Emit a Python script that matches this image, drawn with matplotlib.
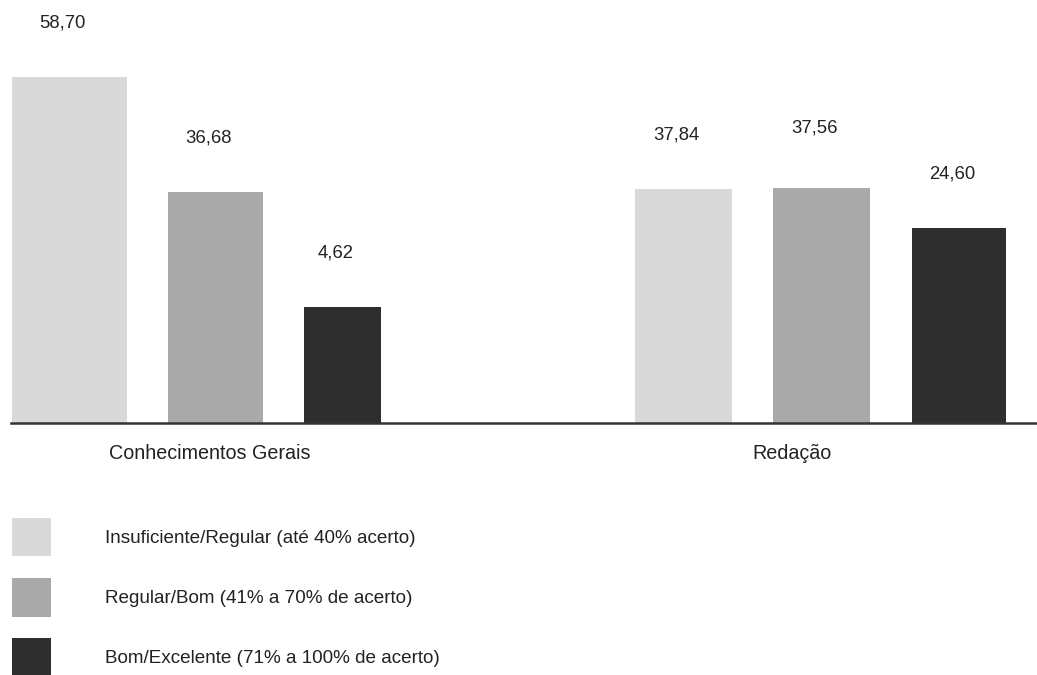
import matplotlib
matplotlib.use("Agg")
import matplotlib.pyplot as plt
from matplotlib.patches import Patch

plt.rcParams['font.family'] = ['Liberation Sans', 'DejaVu Sans']

# ---- data ----
categories = ["Conhecimentos Gerais", "Redação"]
series_names = [
    "Insuficiente/Regular (até 40% acerto)",
    "Regular/Bom (41% a 70% de acerto)",
    "Bom/Excelente (71% a 100% de acerto)",
]
# printed values (percent)
values = {
    "Conhecimentos Gerais": [58.70, 36.68, 4.62],
    "Redação": [37.84, 37.56, 24.60],
}
# the source chart's bars are not drawn to scale; apparent heights read
# from the picture, in the same units (58.70 bar as reference)
drawn_heights = {
    "Conhecimentos Gerais": [58.7, 39.2, 19.7],
    "Redação": [39.7, 39.9, 33.1],
}
value_labels = {k: [f"{v:.2f}".replace(".", ",") for v in vs] for k, vs in values.items()}

# ---- style / layout ----
colors = ["#d9d9d9", "#a9a9a9", "#2e2e2e"]
text_color = "#222222"
group_centers = [210, 792]
bar_offsets = {
    "Conhecimentos Gerais": [-140.5, 5.5, 132.5],
    "Redação": [-108.5, 29.5, 167],
}
bar_widths = {
    "Conhecimentos Gerais": [115, 95, 77],
    "Redação": [97, 97, 94],
}
label_dy = {
    "Conhecimentos Gerais": [39, 39, 39],
    "Redação": [39, 43, 39],
}

W, H = 1037, 675
fig = plt.figure(figsize=(W / 100, H / 100), dpi=100)
base_px = 423
ax = fig.add_axes([0, (H - base_px) / H, 1, base_px / H])
ax.set_xlim(0, W)
ax.set_ylim(0, 71.8)

for gi, cat in enumerate(categories):
    for si in range(3):
        x = group_centers[gi] + bar_offsets[cat][si]
        h = drawn_heights[cat][si]
        ax.bar(x, h, width=bar_widths[cat][si], color=colors[si], edgecolor="none")
        ax.annotate(value_labels[cat][si], xy=(x, h), xytext=(-5, label_dy[cat][si]),
                    textcoords="offset points", ha="center", va="center",
                    fontsize=13.3, color=text_color)

for s in ["top", "right", "left"]:
    ax.spines[s].set_visible(False)
ax.spines["bottom"].set_bounds(11, W)
ax.spines["bottom"].set_linewidth(1.8)
ax.spines["bottom"].set_color("#333333")
ax.set_yticks([])
ax.set_xticks(group_centers)
ax.set_xticklabels(categories, fontsize=14.2, color=text_color)
ax.tick_params(axis="x", length=0, pad=15)
ax.patch.set_visible(False)

handles = [Patch(facecolor=c, edgecolor="none") for c in colors]
fig.legend(handles, series_names, loc="upper left",
           bbox_to_anchor=(12 / W, 1 - 518 / H), frameon=False,
           fontsize=13.6, handlelength=2.05, handleheight=2.75,
           handletextpad=2.85, labelspacing=1.15, borderpad=0,
           borderaxespad=0, labelcolor=text_color)

fig.savefig("out.png", dpi=100, facecolor="white")
